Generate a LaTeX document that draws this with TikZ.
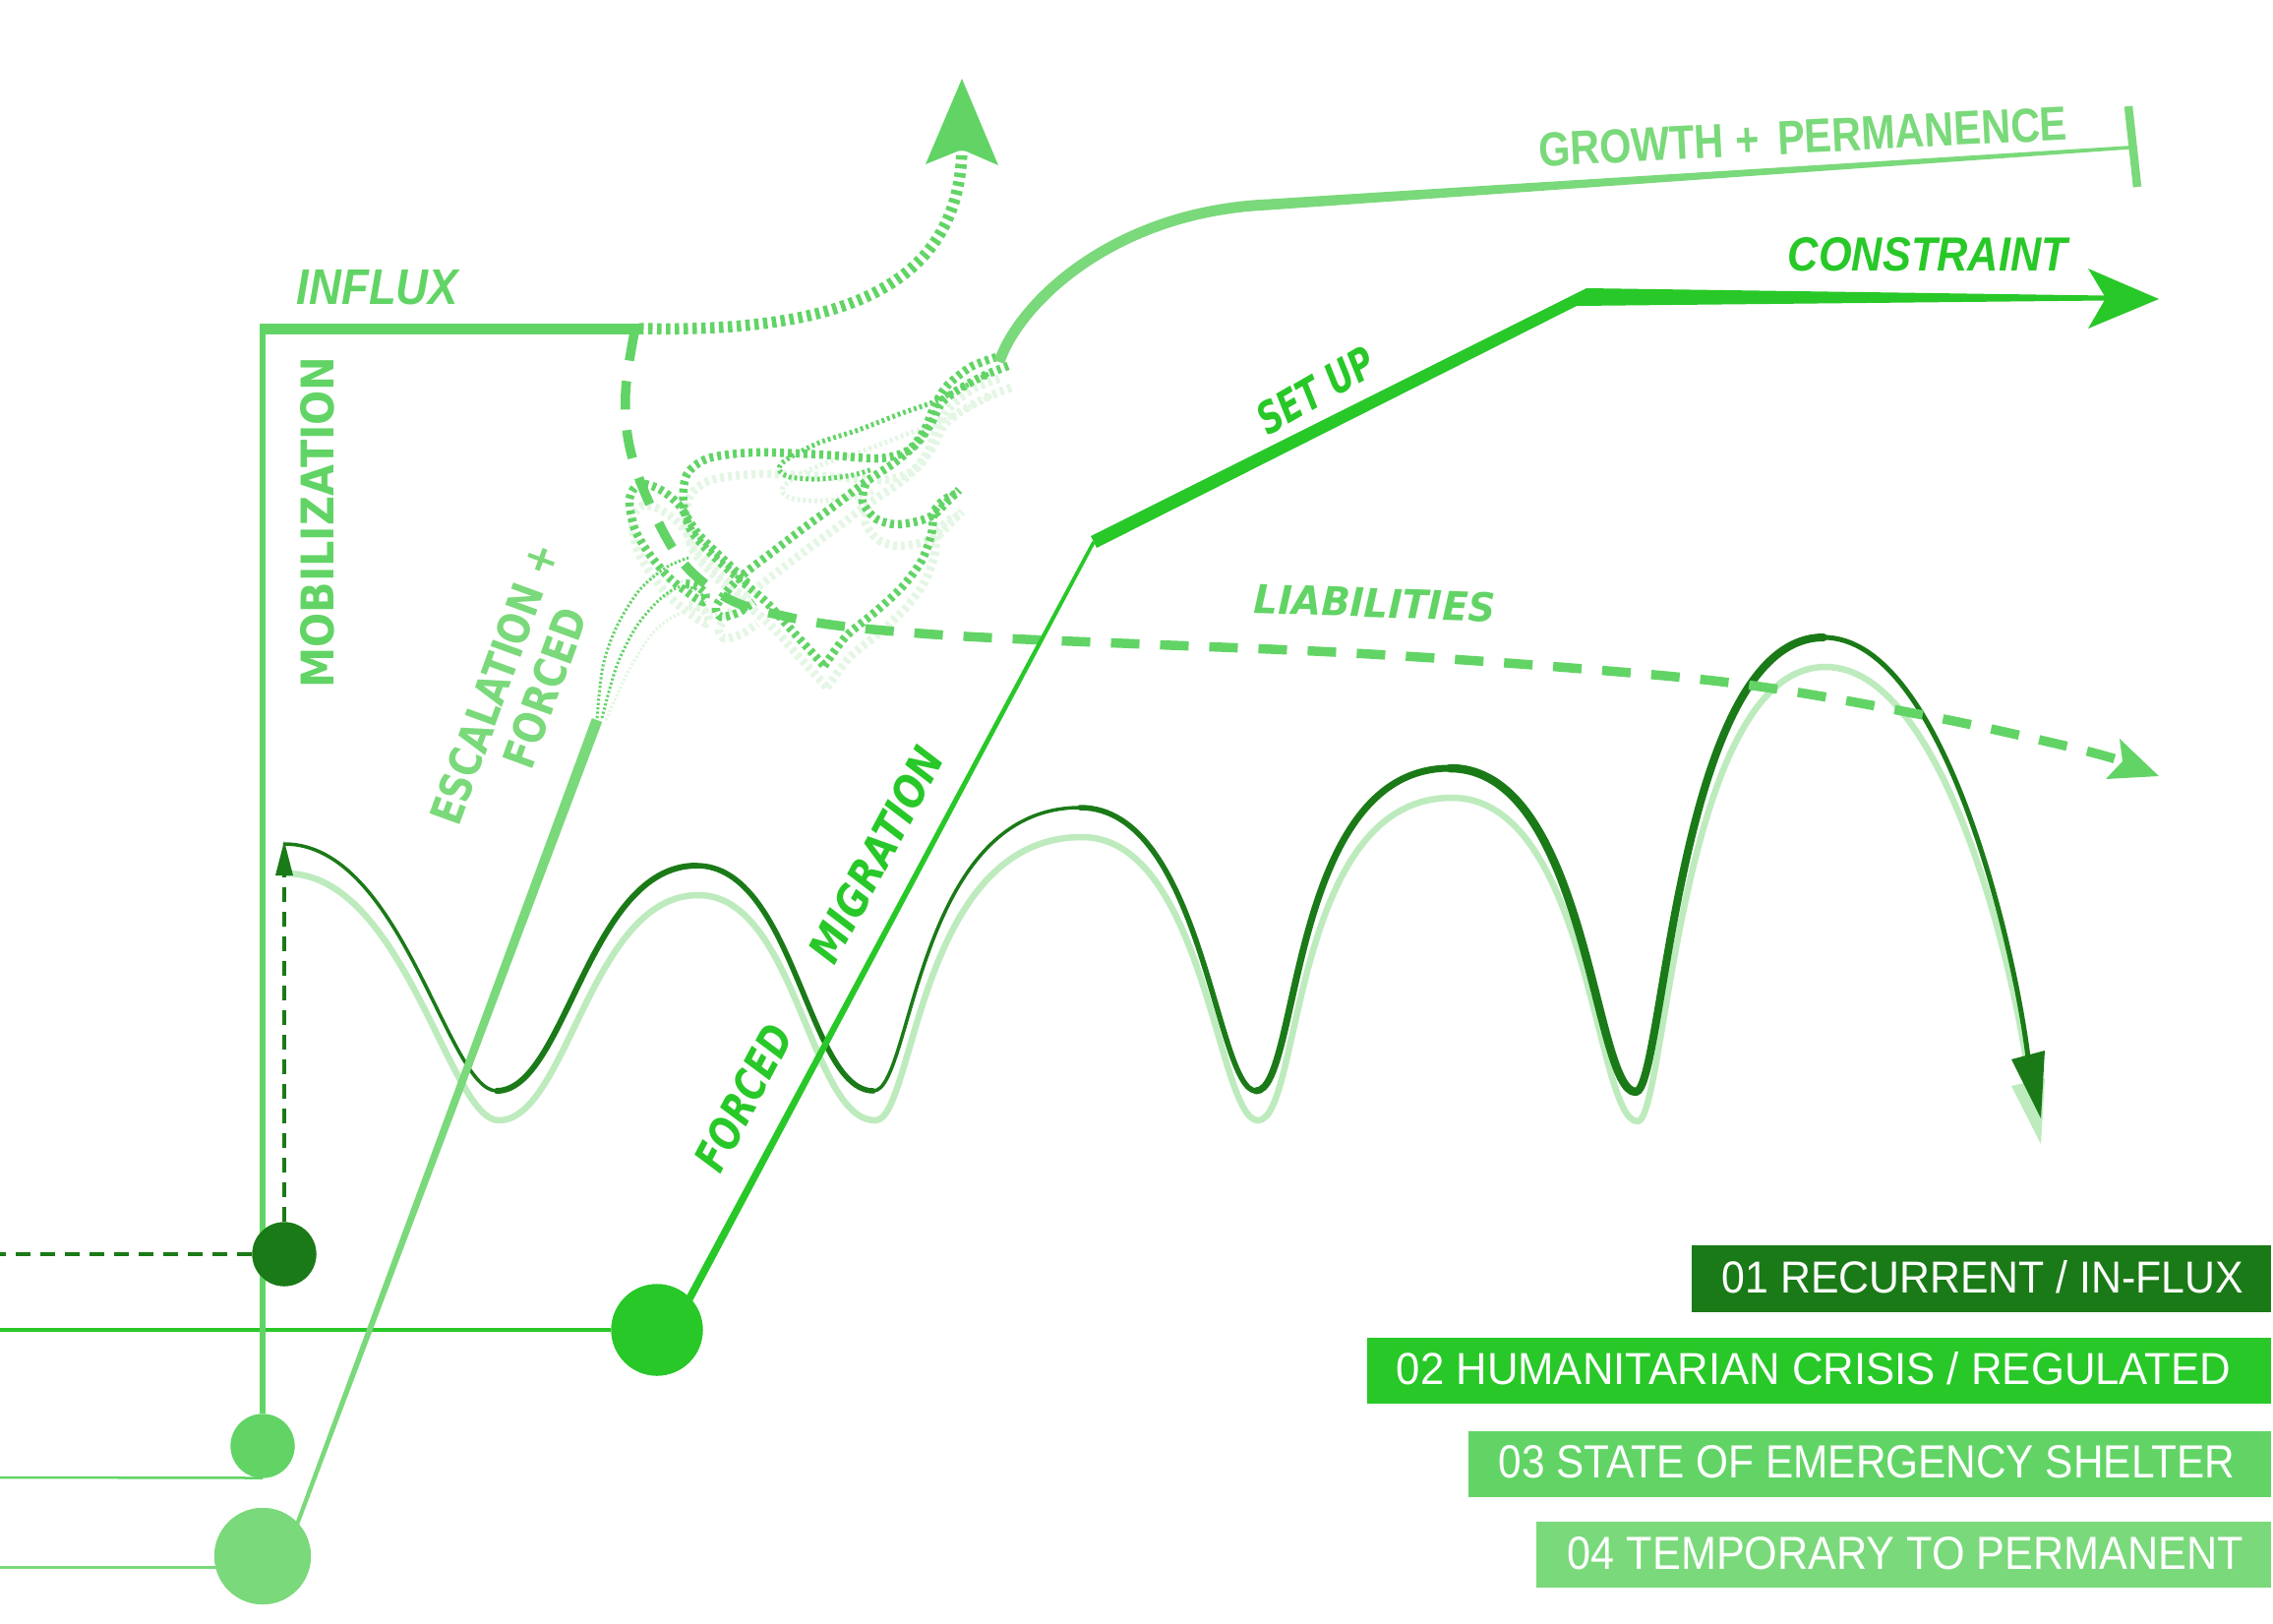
\documentclass[tikz,border=0pt]{standalone}
\usepackage{fontspec}
\setmainfont{Liberation Sans}
\newfontfamily\heavyfont{DejaVu Sans}
\usepackage{graphicx}
\definecolor{cDark}{HTML}{1A7A17}
\definecolor{cBright}{HTML}{28C828}
\definecolor{cMed}{HTML}{62D466}
\definecolor{cLight}{HTML}{7AD97A}
\definecolor{cPale}{HTML}{BDEBBD}
\definecolor{cFaint}{HTML}{E4F6E4}
\begin{document}
\begin{tikzpicture}[x=0.01cm, y=-0.01cm,
  lbl/.style={inner sep=0pt, outer sep=0pt},
  rope/.style={line width=0.085cm, dash pattern=on 0.04cm off 0.04cm},
  thinrope/.style={line width=0.05cm, dash pattern=on 0.028cm off 0.03cm},
  fanline/.style={line width=0.03cm, dash pattern=on 0.022cm off 0.022cm},
  ball/.style={circle, inner sep=0pt, outer sep=0pt},
  legbox/.style={inner sep=0pt, outer sep=0pt, minimum height=0.67cm},
  legtext/.style={inner sep=0pt, outer sep=0pt, text=white},
  wv/.style={cDark, line cap=round}]

\useasboundingbox (0,0) rectangle (2311,1651);
\fill[white] (0,0) rectangle (2311,1651);

% ---------- pale shadows of the tangle
\begin{scope}[shift={(3,22)}, color=cFaint]
\draw[rope] plot[smooth] coordinates {(1013,363) (987,373) (963,392) (950,413) (940,437) (923,458) (893,466) (833,462) (767,460) (720,466) (698,483) (695,513) (703,540) (727,567) (753,590) (780,613) (807,643) (838,677)};
\draw[rope] plot[smooth] coordinates {(838,677) (860,647) (890,622) (917,597) (937,570) (947,543) (950,520) (960,508) (972,502)};
\draw[rope] plot[smooth] coordinates {(1025,372) (1000,382) (973,397) (957,410) (947,430) (933,450) (910,470) (880,490) (850,513) (817,537) (787,560) (757,583) (740,600) (728,617) (733,627) (750,623) (767,612)};
\draw[rope] plot[smooth] coordinates {(880,492) (877,510) (890,527) (910,533) (933,530) (950,523) (963,510) (975,498)};
\draw[rope] plot[smooth] coordinates {(760,593) (740,573) (710,543) (690,513) (670,497) (650,492) (640,507) (645,537) (660,563) (680,587) (700,603) (715,612) (717,603) (707,595) (693,593)};
\draw[thinrope] plot[smooth] coordinates {(1005,380) (953,407) (917,420) (873,437) (833,450) (800,467) (792,477) (803,485) (833,487) (867,483) (887,477)};
\end{scope}
\draw[cFaint, fanline] plot[smooth] coordinates {(616,732) (640,680) (667,640) (700,620) (730,625)};

% ---------- waves
\begin{scope}[shift={(2,30)}]
\draw[cPale, line width=0.065cm] (289,858) .. controls (409,858) and (455,1109) .. (505,1109)
  .. controls (575,1109) and (598,880) .. (708,880)
  .. controls (808,880) and (821,1109) .. (888,1109)
  .. controls (928,1109) and (930,821) .. (1098,821)
  .. controls (1223,821) and (1236,1109) .. (1277,1109)
  .. controls (1322,1109) and (1309,781) .. (1474,781)
  .. controls (1614,781) and (1620,1110) .. (1663,1110)
  .. controls (1692,1110) and (1704,648) .. (1854,648)
  .. controls (1975,648) and (2048,960) .. (2062,1075);
\end{scope}
\fill[cPale] (2045,1104) -- (2079,1096) -- (2075,1163) -- cycle;

\draw[wv, line width=0.035cm] (289,858) .. controls (409,858) and (455,1109) .. (505,1109);
\draw[wv, line width=0.06cm] (505,1109) .. controls (575,1109) and (598,880) .. (708,880);
\draw[wv, line width=0.055cm] (708,880) .. controls (808,880) and (821,1109) .. (888,1109);
\draw[wv, line width=0.035cm] (888,1109) .. controls (928,1109) and (930,821) .. (1098,821);
\draw[wv, line width=0.055cm] (1098,821) .. controls (1223,821) and (1236,1109) .. (1277,1109);
\draw[wv, line width=0.07cm] (1277,1109) .. controls (1322,1109) and (1309,781) .. (1474,781);
\draw[wv, line width=0.085cm] (1474,781) .. controls (1614,781) and (1620,1110) .. (1663,1110);
\draw[wv, line width=0.08cm] (1663,1110) .. controls (1692,1110) and (1704,648) .. (1854,648);
\draw[wv, line width=0.05cm] (1854,648) .. controls (1975,648) and (2048,960) .. (2062,1075);
\fill[cDark] (2045,1077) -- (2079,1068) -- (2075,1137) -- cycle;
\fill[cDark] (289,855) -- (298,890) -- (280,890) -- cycle;

% ---------- tangle
\begin{scope}[color=cMed]
\draw[rope] plot[smooth] coordinates {(1013,363) (987,373) (963,392) (950,413) (940,437) (923,458) (893,466) (833,462) (767,460) (720,466) (698,483) (695,513) (703,540) (727,567) (753,590) (780,613) (807,643) (838,677)};
\draw[rope] plot[smooth] coordinates {(838,677) (860,647) (890,622) (917,597) (937,570) (947,543) (950,520) (960,508) (972,502)};
\draw[rope] plot[smooth] coordinates {(1025,372) (1000,382) (973,397) (957,410) (947,430) (933,450) (910,470) (880,490) (850,513) (817,537) (787,560) (757,583) (740,600) (728,617) (733,627) (750,623) (767,612)};
\draw[rope] plot[smooth] coordinates {(880,492) (877,510) (890,527) (910,533) (933,530) (950,523) (963,510) (975,498)};
\draw[rope] plot[smooth] coordinates {(760,593) (740,573) (710,543) (690,513) (670,497) (650,492) (640,507) (645,537) (660,563) (680,587) (700,603) (715,612) (717,603) (707,595) (693,593)};
\draw[thinrope] plot[smooth] coordinates {(1005,380) (953,407) (917,420) (873,437) (833,450) (800,467) (792,477) (803,485) (833,487) (867,483) (887,477)};
\draw[fanline] plot[smooth] coordinates {(607,730) (613,677) (627,637) (650,600) (677,577) (700,567)};
\draw[fanline] plot[smooth] coordinates {(612,730) (627,677) (647,637) (670,610) (690,597) (710,600) (717,612)};
\end{scope}

% ---------- influx: dotted arrow
\coordinate (inEnd) at (650,334);
\coordinate (upTip) at (978,152);
\draw[cMed, line width=0.115cm, dash pattern=on 0.045cm off 0.045cm] (inEnd) .. controls (830,338) and (975,305) .. (upTip);
\fill[cMed] (978,80) -- (1015,168) -- (978,152) -- (941,167) -- cycle;

% ---------- liabilities dashed
\draw[cMed, line width=0.095cm, dash pattern=on 0.29cm off 0.21cm] plot[smooth, tension=0.6] coordinates {(645,338) (636,400) (641,458) (665,522) (697,575) (743,610) (800,627) (860,637) (950,645) (1043,650) (1166,655) (1376,664) (1597,679) (1782,697) (1966,729) (2099,758) (2152,772)};
\fill[cMed] (2195,789) -- (2155,751) -- (2158,774) -- (2141,792) -- cycle;

% ---------- growth + permanence
\coordinate (gStart) at (1016,368);
\coordinate (gMid) at (1290,208);
\draw[cLight, line width=0.11cm] (gStart) .. controls (1035,310) and (1130,215) .. (gMid);
\fill[cLight] (1290,202.5) -- (2168,148) -- (2168,151.5) -- (1290,213.5) -- cycle;
\draw[cLight, line width=0.085cm] (2164,108) -- (2173,190);

% ---------- circles (named)
\node[ball, fill=cDark, minimum size=0.65cm] (c1) at (289,1275) {};
\node[ball, fill=cBright, minimum size=0.93cm] (c2) at (668,1352) {};
\node[ball, fill=cMed, minimum size=0.65cm] (c3) at (267,1470) {};
\node[ball, fill=cLight, minimum size=0.98cm] (c4) at (267,1582) {};

% ---------- lines to the left and mobilization / influx
\coordinate (l1) at (0,1275);
\coordinate (l2) at (0,1352);
\coordinate (l3) at (0,1502);
\coordinate (l4) at (0,1593);
\coordinate (a1) at (289,890);
\coordinate (mobTop) at (267,329);
\draw[cDark, line width=0.04cm, dash pattern=on 0.15cm off 0.10cm] (c1.west) -- (l1);
\draw[cDark, line width=0.035cm, dash pattern=on 0.15cm off 0.10cm] (c1.north) -- (a1);
\draw[cBright, line width=0.045cm] (c2.west) -- (l2);
\draw[cMed, line width=0.025cm] (c3.south) -- (l3);
\draw[cLight, line width=0.03cm] (c4.center |- l4) -- (l4);
\draw[cMed, line width=0.065cm] (c3.north) -- (mobTop);
\draw[cMed, line width=0.11cm] (263.75,334) -- (inEnd);

% ---------- escalation line
\fill[cLight] (288.2,1581.4) -- (601.8,730.1) -- (612.2,733.9) -- (291.8,1582.6) -- cycle;

% ---------- forced migration / set up / constraint
\fill[cBright] (680.5,1350.1) -- (1110.4,550.15) -- (1113.6,551.85) -- (687.5,1353.9) -- cycle;
\fill[cBright] (1109,545) -- (1613,293) -- (2141,300.5) -- (2141,305.5) -- (1603,311) -- (1115,557) -- cycle;
\fill[cBright] (2195,304) -- (2123,273) -- (2141,303) -- (2123,334) -- cycle;

% circles on top of their lines
\node[ball, fill=cDark, minimum size=0.65cm] at (c1) {};
\node[ball, fill=cBright, minimum size=0.93cm] at (c2) {};
\node[ball, fill=cMed, minimum size=0.65cm] at (c3) {};
\node[ball, fill=cLight, minimum size=0.98cm] at (c4) {};

% ---------- labels
\node[lbl, text=cMed] (tInflux) at (384,292) {\resizebox{1.64cm}{0.35cm}{\bfseries\itshape INFLUX}};
\node[lbl, text=cMed, rotate=90] (tMob) at (323,531) {\resizebox{3.37cm}{0.34cm}{\heavyfont\bfseries MOBILIZATION}};
\node[lbl, text=cLight, rotate=70] (tEsc) at (531.5,706) {\begin{tabular}{@{}c@{}}\resizebox{3.00cm}{0.33cm}{\heavyfont\bfseries ESCALATION +}\\[0.043cm]\hspace*{0.28cm}\resizebox{1.70cm}{0.33cm}{\heavyfont\bfseries FORCED}\end{tabular}};
\node[lbl, text=cBright, rotate=62] (tMig) at (891,869) {\resizebox{2.40cm}{0.33cm}{\heavyfont\bfseries\itshape MIGRATION}};
\node[lbl, text=cBright, rotate=62] (tForc2) at (756,1116) {\resizebox{1.60cm}{0.33cm}{\heavyfont\bfseries\itshape FORCED}};
\node[lbl, text=cBright, rotate=30] (tSet) at (1338,397) {\resizebox{1.31cm}{0.33cm}{\heavyfont\bfseries\itshape SET UP}};
\node[lbl, text=cBright] (tCon) at (1960,259) {\resizebox{2.84cm}{0.34cm}{\bfseries\itshape CONSTRAINT}};
\node[lbl, text=cLight, rotate=2.9] (tGrow) at (1833,139) {\resizebox{5.38cm}{0.34cm}{\bfseries GROWTH +\hspace{0.45em}PERMANENCE}};
\node[lbl, text=cMed, rotate=-2] (tLia) at (1398,613) {\resizebox{2.45cm}{0.30cm}{\heavyfont\bfseries\itshape LIABILITIES}};

% ---------- legend
\node[legbox, fill=cDark, minimum width=5.89cm] (k1) at (2014.5,1300) {};
\node[legbox, fill=cBright, minimum width=9.19cm] (k2) at (1849.5,1393.5) {};
\node[legbox, fill=cMed, minimum width=8.16cm] (k3) at (1901,1488.5) {};
\node[legbox, fill=cLight, minimum width=7.47cm] (k4) at (1935.5,1580.5) {};
\node[legtext] (k1t) at (2016,1298.5) {\resizebox{5.30cm}{0.33cm}{01 RECURRENT / IN-FLUX}};
\node[legtext] (k2t) at (1844,1391) {\resizebox{8.48cm}{0.33cm}{02 HUMANITARIAN CRISIS / REGULATED}};
\node[legtext] (k3t) at (1898,1486) {\resizebox{7.48cm}{0.33cm}{03 STATE OF EMERGENCY SHELTER}};
\node[legtext] (k4t) at (1937.5,1579) {\resizebox{6.87cm}{0.33cm}{04 TEMPORARY TO PERMANENT}};
\end{tikzpicture}
\end{document}
